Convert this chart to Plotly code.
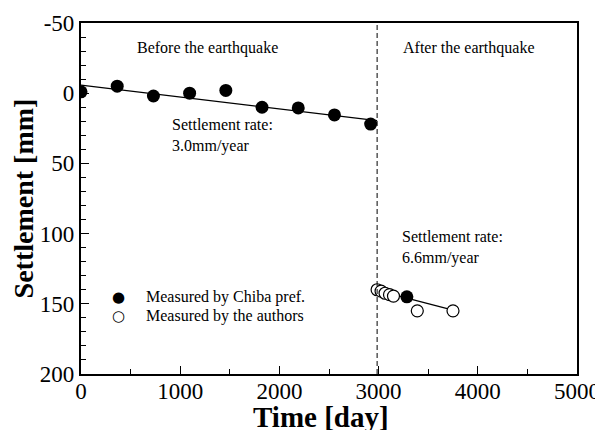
import plotly.graph_objects as go

# ---- data ----
before_days = [0, 365, 730, 1095, 1460, 1825, 2190, 2555, 2920]
before_settle = [-1, -5, 2, 0, -2, 10, 10.5, 15.5, 22]

chiba_after_days = [3285]
chiba_after_settle = [145]

authors_days = [2985, 3025, 3065, 3110, 3150, 3390, 3750]
authors_settle = [140, 141, 142.5, 143.5, 144.5, 155, 155]

trend_before_days = [0, 2985]
trend_before_settle = [-5.8, 19.5]
trend_after_days = [2985, 3750]
trend_after_settle = [140.5, 154.5]

earthquake_day = 2985

x_ticks = [0, 1000, 2000, 3000, 4000, 5000]
x_tick_labels = ["0", "1000", "2000", "3000", "4000", "5000"]
y_ticks = [-50, 0, 50, 100, 150, 200]
y_tick_labels = ["-50", "0", "50", "100", "150", "200"]

legend_labels = ["Measured by Chiba pref.", "Measured by the authors"]
legend_symbols = ["\u25CF", "\u25CB"]

FONT = "Liberation Serif, Times New Roman, serif"

fig = go.Figure()

fig.add_trace(go.Scatter(x=trend_before_days, y=trend_before_settle, mode="lines",
                         line=dict(color="black", width=1.3), showlegend=False,
                         hoverinfo="skip"))
fig.add_trace(go.Scatter(x=trend_after_days, y=trend_after_settle, mode="lines",
                         line=dict(color="black", width=1.3), showlegend=False,
                         hoverinfo="skip"))

fig.add_trace(go.Scatter(x=authors_days, y=authors_settle, mode="markers",
                         name=legend_labels[1], showlegend=False,
                         marker=dict(symbol="circle", size=12, color="white",
                                     line=dict(color="black", width=1.2))))
fig.add_trace(go.Scatter(x=before_days + chiba_after_days,
                         y=before_settle + chiba_after_settle, mode="markers",
                         name=legend_labels[0], showlegend=False,
                         marker=dict(symbol="circle", size=13, color="black",
                                     line=dict(color="black", width=0))))

fig.add_shape(type="line", x0=earthquake_day, x1=earthquake_day, y0=0, y1=1,
              xref="x", yref="paper", line=dict(color="black", width=1, dash="5px,3px"))

ann_font = dict(family=FONT, size=16, color="black")
fig.add_annotation(x=545, y=-32, xref="x", yref="y", text="Before the earthquake",
                   showarrow=False, xanchor="left", yanchor="middle", font=ann_font)
fig.add_annotation(x=3225, y=-32, xref="x", yref="y", text="After the earthquake",
                   showarrow=False, xanchor="left", yanchor="middle", font=ann_font)
fig.add_annotation(x=895, y=30, xref="x", yref="y",
                   text="Settlement rate:<br>3.0mm/year", align="left",
                   showarrow=False, xanchor="left", yanchor="middle", font=ann_font)
fig.add_annotation(x=3215, y=110, xref="x", yref="y",
                   text="Settlement rate:<br>6.6mm/year", align="left",
                   showarrow=False, xanchor="left", yanchor="middle", font=ann_font)

# hand-made legend (text glyphs + labels)
legend_rows_y = [145, 159]
for sym, lab, yy in zip(legend_symbols, legend_labels, legend_rows_y):
    fig.add_annotation(x=383, y=yy, xref="x", yref="y", text=sym, showarrow=False,
                       xanchor="center", yanchor="middle",
                       font=dict(family="DejaVu Sans", size=15, color="black"))
    fig.add_annotation(x=640, y=yy, xref="x", yref="y", text=lab, showarrow=False,
                       xanchor="left", yanchor="middle", font=ann_font)

# x-axis title as annotation (reference places it slightly left of centre)
fig.add_annotation(x=0.484, y=-0.07, xref="paper", yref="paper",
                   text="<b>Time [day]</b>", showarrow=False,
                   xanchor="center", yanchor="top",
                   font=dict(family=FONT, size=29, color="black"))

fig.update_layout(
    width=595, height=422,
    margin=dict(l=73, r=26, t=15, b=56, autoexpand=False),
    paper_bgcolor="white", plot_bgcolor="white",
    font=dict(family=FONT, color="black"),
    showlegend=False,
)

fig.update_xaxes(range=[0, 5000], tickvals=x_ticks, ticktext=x_tick_labels,
                 ticks="inside", ticklen=8, automargin=False, ticklabelstandoff=-5,
                 tickwidth=1.3, tickcolor="black", showgrid=False, zeroline=False,
                 showline=True, linecolor="black", linewidth=2.2, mirror=True,
                 tickfont=dict(family=FONT, size=23),
                 minor=dict(dtick=500, ticks="inside", ticklen=5, tickwidth=1.2,
                            tickcolor="black", showgrid=False))
fig.update_yaxes(range=[200, -50], tickvals=y_ticks, ticktext=y_tick_labels,
                 ticks="inside", ticklen=8, automargin=False,
                 tickwidth=1.3, tickcolor="black", showgrid=False, zeroline=False,
                 showline=True, linecolor="black", linewidth=2.2, mirror=True,
                 tickfont=dict(family=FONT, size=23),
                 minor=dict(dtick=10, ticks="inside", ticklen=5, tickwidth=1.2,
                            tickcolor="black", showgrid=False),
                 title=dict(text="<b>Settlement [mm]</b>", font=dict(family=FONT, size=28),
                            standoff=0))

fig.write_html("out.html")
